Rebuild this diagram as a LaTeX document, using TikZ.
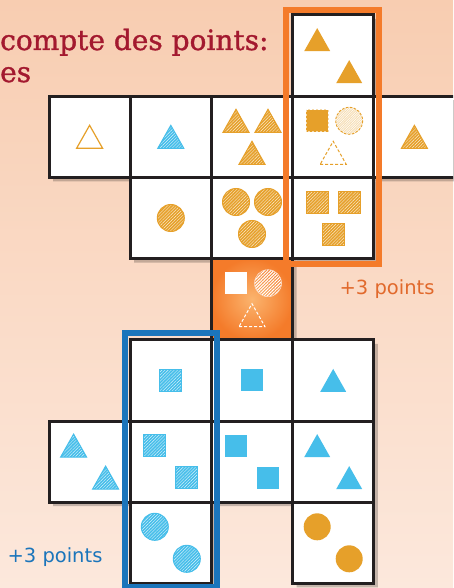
\documentclass[tikz,border=0pt]{standalone}
\usepackage{fontspec}
\usepackage{tikz}
\usetikzlibrary{calc,patterns.meta}
\newfontfamily\titlefont[FakeBold=1.2]{DejaVu Serif}
\newfontfamily\ptsfont{DejaVu Sans}
\definecolor{shOrange}{HTML}{E6A02A}
\definecolor{shBlue}{HTML}{46BEEA}
\definecolor{frOrange}{HTML}{F47B2A}
\definecolor{frBlue}{HTML}{1B75BB}
\definecolor{ptOrange}{HTML}{E1692C}
\definecolor{ttlRed}{HTML}{A3192F}
\definecolor{cellInk}{HTML}{231F20}
\definecolor{bgTop}{HTML}{F8CDB1}
\definecolor{bgBot}{HTML}{FCE8DC}
\definecolor{midLight}{HTML}{FBB46E}

\tikzset{
  tri/.pic={\path[#1] (-13,11.5) -- (13,11.5) -- (0,-11.5) -- cycle;},
  sq/.pic={\path[#1] (-11,-11) rectangle (11,11);},
  disc/.pic={\path[#1] (0,0) circle[radius=13.5];},
}

\begin{document}
\begin{tikzpicture}[x=1pt, y=-1pt,
    cell/.style={draw=cellInk, line width=3pt, fill=white, minimum size=81.2pt, inner sep=0pt},
    hotcell/.style={draw=cellInk, line width=3pt, inner color=midLight, outer color=frOrange,
                    minimum size=81.2pt, inner sep=0pt},
    solidO/.style={fill=shOrange},
    solidB/.style={fill=shBlue},
    hatchO/.style={fill=shOrange,
        postaction={pattern={Lines[angle=45,distance=2.2pt,line width=0.4pt]}, pattern color=white!80!shOrange},
        postaction={draw=shOrange, line width=1pt}},
    hatchB/.style={fill=shBlue,
        postaction={pattern={Lines[angle=45,distance=2.2pt,line width=0.4pt]}, pattern color=white!80!shBlue},
        postaction={draw=shBlue, line width=1pt}},
    pts/.style={font=\ptsfont\fontsize{19.5}{22}\selectfont, anchor=base, inner sep=0pt},
]
    \useasboundingbox (0,0) rectangle (453,588);
    \clip (0,0) rectangle (453,588);
    \shade[top color=bgTop, bottom color=bgBot] (0,0) rectangle (453,588);

    % heading, cut at the left edge
    \node[anchor=base west, inner sep=0pt, text=ttlRed, font=\titlefont\fontsize{28}{32}\selectfont]
        (ttlA) at (0,50) {compte des points:};
    \node[anchor=base west, inner sep=0pt, text=ttlRed, font=\titlefont\fontsize{28}{32}\selectfont]
        (ttlB) at (0,82) {es};

    % shadows under the tiles
    \begin{scope}[transparency group, opacity=0.22]
        \foreach \c/\r in {3/0,0/1,1/1,2/1,3/1,4/1,1/2,2/2,3/2,2/3,1/4,2/4,3/4,0/5,1/5,2/5,3/5,1/6,3/6}
            \fill[black] (49+81.2*\c+4, 15+81.2*\r+4) rectangle ++(81.2,81.2);
    \end{scope}

    % tiles
    \foreach \c/\r in {3/0,0/1,1/1,2/1,3/1,4/1,1/2,2/2,3/2,1/4,2/4,3/4,0/5,1/5,2/5,3/5,1/6,3/6}
        \node[cell] (c\c\r) at (89.6+81.2*\c, 55.6+81.2*\r) {};
    \node[hotcell] (c23) at (89.6+81.2*2, 55.6+81.2*3) {};

    % top part, orange
    \pic at ($(c30)+(-16,-16)$) {tri=solidO};
    \pic at ($(c30)+(16,16)$) {tri=solidO};
    \pic at (c01) {tri={draw=shOrange, line width=1.2pt}};
    \pic at (c11) {tri=hatchB};
    \pic at ($(c21)+(-16,-16)$) {tri=hatchO};
    \pic at ($(c21)+(16,-16)$) {tri=hatchO};
    \pic at ($(c21)+(0,16)$) {tri=hatchO};
    \pic at ($(c31)+(-16,-16)$) {sq={fill=shOrange, draw=white!60!shOrange, line width=0.7pt, dash pattern=on 2pt off 2pt}};
    \pic at ($(c31)+(16,-16)$) {disc={fill=shOrange!35,
         postaction={pattern={Lines[angle=45,distance=1.7pt,line width=0.5pt]}, pattern color=white},
         postaction={draw=shOrange, line width=0.9pt, dash pattern=on 2.5pt off 1.5pt}}};
    \pic at ($(c31)+(0,16)$) {tri={draw=shOrange, line width=1pt, dash pattern=on 3pt off 2pt}};
    \pic at (c41) {tri=hatchO};
    \pic at (c12) {disc=hatchO};
    \pic at ($(c22)+(-16,-16)$) {disc=hatchO};
    \pic at ($(c22)+(16,-16)$) {disc=hatchO};
    \pic at ($(c22)+(0,16)$) {disc=hatchO};
    \pic at ($(c32)+(-16,-16)$) {sq=hatchO};
    \pic at ($(c32)+(16,-16)$) {sq=hatchO};
    \pic at ($(c32)+(0,16)$) {sq=hatchO};

    % middle tile
    \pic at ($(c23)+(-16,-16)$) {sq={fill=white}};
    \pic at ($(c23)+(16,-16)$) {disc={pattern={Lines[angle=45,distance=2.2pt,line width=1pt]}, pattern color=white,
         postaction={draw=white!70!frOrange, line width=0.6pt}}};
    \pic at ($(c23)+(0,16)$) {tri={draw=white, line width=1pt, dash pattern=on 3pt off 2pt}};

    % bottom part, blue
    \pic at (c14) {sq=hatchB};
    \pic at (c24) {sq=solidB};
    \pic at (c34) {tri=solidB};
    \pic at ($(c05)+(-16,-16)$) {tri=hatchB};
    \pic at ($(c05)+(16,16)$) {tri=hatchB};
    \pic at ($(c15)+(-16,-16)$) {sq=hatchB};
    \pic at ($(c15)+(16,16)$) {sq=hatchB};
    \pic at ($(c25)+(-16,-16)$) {sq=solidB};
    \pic at ($(c25)+(16,16)$) {sq=solidB};
    \pic at ($(c35)+(-16,-16)$) {tri=solidB};
    \pic at ($(c35)+(16,16)$) {tri=solidB};
    \pic at ($(c16)+(-16,-16)$) {disc=hatchB};
    \pic at ($(c16)+(16,16)$) {disc=hatchB};
    \pic at ($(c36)+(-16,-16)$) {disc=solidO};
    \pic at ($(c36)+(16,16)$) {disc=solidO};

    % scoring frames
    \draw[frOrange, line width=6pt] (286,10) rectangle (379,263.5);
    \draw[frBlue, line width=6pt] (125,333) rectangle (217,587);
    \node[pts, text=ptOrange] (ptsA) at (387,294) {+3 points};
    \node[pts, text=frBlue] (ptsB) at (55,562) {+3 points};
\end{tikzpicture}
\end{document}
